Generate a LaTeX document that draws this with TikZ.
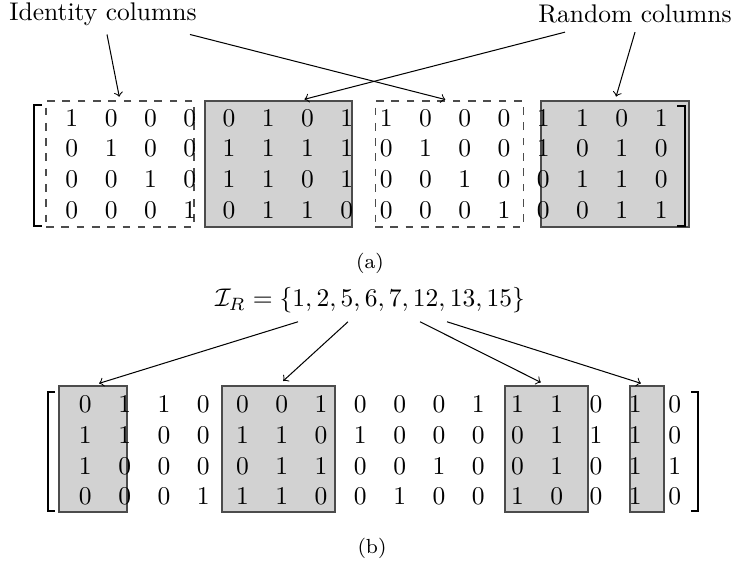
\documentclass[tikz,border=0pt]{standalone}
\usepackage{amssymb,amsmath}
\usepackage{tikz}
\tikzstyle{idbox}=[draw=black!70,dashed,inner sep=0pt]
\tikzstyle{rdbox}=[draw=black!70,fill=gray!35,line width=0.6pt,inner sep=0pt]
\tikzstyle{bracket}=[line width=0.8pt]
\tikzstyle{pointer}=[->,shorten >=1.5pt]
\tikzstyle{bits}=[matrix of math nodes,nodes={minimum width=15.4pt,minimum height=12pt,inner sep=0pt}]
\usetikzlibrary{matrix,calc,fit}

\begin{document}
\begin{tikzpicture}[x=0.392pt,y=-0.392pt]
          \useasboundingbox (0,0) rectangle (739,567);

          % (a) identity and random blocks
          \node[idbox,fit={(46,101) (194,227)}] (id1) {};
          \node[rdbox,fit={(205,101) (352,227)}] (rd1) {};
          \node[idbox,fit={(375,101) (523,227)}] (id2) {};
          \node[rdbox,fit={(541,101) (689,227)}] (rd2) {};

          \matrix (A) at (366.5,164) [bits] {
            1 & 0 & 0 & 0 & 0 & 1 & 0 & 1 & 1 & 0 & 0 & 0 & 1 & 1 & 0 & 1 \\
            0 & 1 & 0 & 0 & 1 & 1 & 1 & 1 & 0 & 1 & 0 & 0 & 1 & 0 & 1 & 0 \\
            0 & 0 & 1 & 0 & 1 & 1 & 0 & 1 & 0 & 0 & 1 & 0 & 0 & 1 & 1 & 0 \\
            0 & 0 & 0 & 1 & 0 & 1 & 1 & 0 & 0 & 0 & 0 & 1 & 0 & 0 & 1 & 1 \\
          };
          \draw[bracket] (42,105) -- (34,105) -- (34,226) -- (42,226);
          \draw[bracket] (677,106) -- (685,106) -- (685,226) -- (677,226);

          \node (idlab) at (103,14) {Identity columns};
          \node (rdlab) at (635,14) {Random columns};
          \draw[pointer] ($(idlab.south)+(4,0)$) -- (id1.north);
          \draw[pointer] ($(idlab.south)+(87,0)$) -- (id2.north);
          \draw[pointer] ($(rdlab.south)+(-70,0)$) -- ($(rd1.north west)!0.65!(rd1.north east)$);
          \draw[pointer] (rdlab.south) -- (rd2.north);

          \node[font=\footnotesize] (capa) at (370,263) {(a)};

          % (b) selected columns
          \node[rdbox,fit={(59,386) (127,512)}] (s1) {};
          \node[rdbox,fit={(222,386) (335,512)}] (s2) {};
          \node[rdbox,fit={(505,386) (588,512)}] (s3) {};
          \node[rdbox,fit={(630,386) (664,512)}] (s4) {};

          \matrix (B) at (380,450.5) [bits] {
            0 & 1 & 1 & 0 & 0 & 0 & 1 & 0 & 0 & 0 & 1 & 1 & 1 & 0 & 1 & 0 \\
            1 & 1 & 0 & 0 & 1 & 1 & 0 & 1 & 0 & 0 & 0 & 0 & 1 & 1 & 1 & 0 \\
            1 & 0 & 0 & 0 & 0 & 1 & 1 & 0 & 0 & 1 & 0 & 0 & 1 & 0 & 1 & 1 \\
            0 & 0 & 0 & 1 & 1 & 1 & 0 & 0 & 1 & 0 & 0 & 1 & 0 & 0 & 1 & 0 \\
          };
          \draw[bracket] (55,392) -- (48,392) -- (48,511) -- (55,511);
          \draw[bracket] (691,392) -- (698,392) -- (698,511) -- (691,511);

          \node (irlab) at (370,300) {$\mathcal{I}_R = \{1,2,5,6,7,12,13,15\}$};
          \draw[pointer,shorten >=2.5pt] ($(irlab.south)+(-72,0)$) -- (s1.north);
          \draw[pointer,shorten >=2.5pt] ($(irlab.south)+(-22,0)$) -- (s2.north);
          \draw[pointer,shorten >=2.5pt] ($(irlab.south)+(50,0)$) -- (s3.north);
          \draw[pointer,shorten >=2.5pt] ($(irlab.south)+(77,0)$) -- (s4.north);

          \node[font=\footnotesize] (capb) at (372,548) {(b)};
        \end{tikzpicture}
\end{document}
